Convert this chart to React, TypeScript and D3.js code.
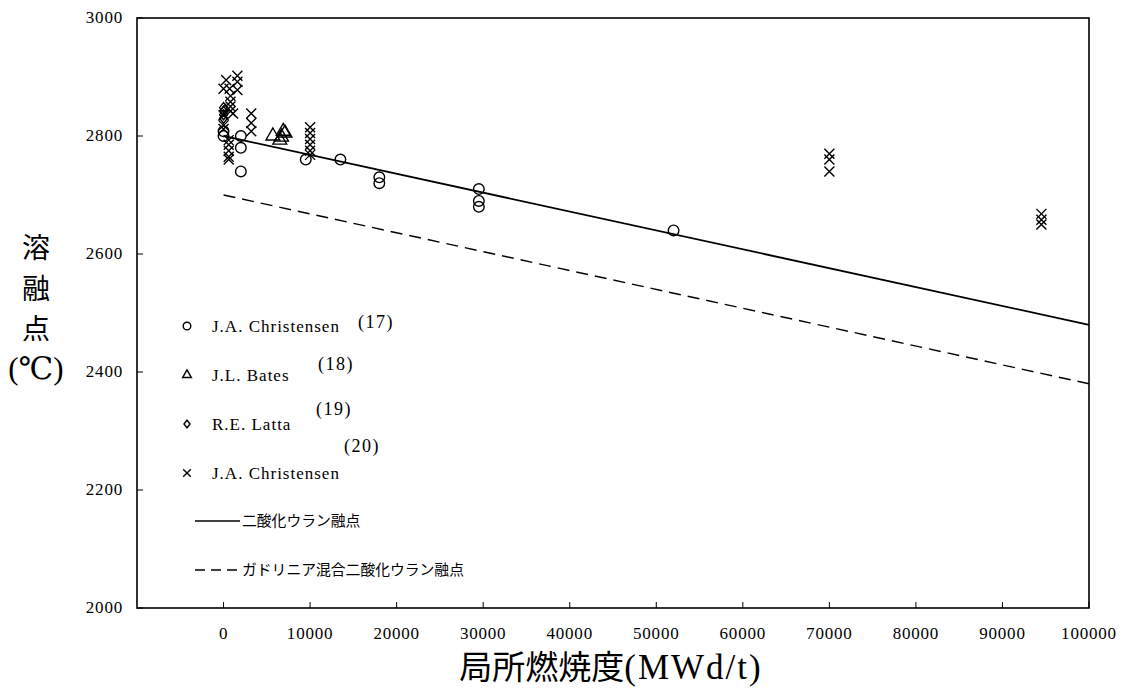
import React from "react";
import * as d3 from "d3";

// ---- data ----
const xTicks = [0, 10000, 20000, 30000, 40000, 50000, 60000, 70000, 80000, 90000, 100000];
const yTicks = [2000, 2200, 2400, 2600, 2800, 3000];

// J.A. Christensen (17) – circles
const christensen17: [number, number][] = [
  [0, 2808], [0, 2800], [2000, 2800], [2000, 2780], [2000, 2740],
  [9500, 2760], [13500, 2760], [18000, 2730], [18000, 2720],
  [29500, 2710], [29500, 2690], [29500, 2680], [52000, 2640],
];
// J.L. Bates (18) – triangles
const bates18: [number, number][] = [
  [5700, 2800], [6500, 2793], [6700, 2798], [6900, 2808], [7100, 2805],
];
// R.E. Latta (19) – diamonds
const latta19: [number, number][] = [
  [0, 2848], [0, 2842], [0, 2836], [0, 2830], [200, 2845],
];
// J.A. Christensen (20) – crosses
const christensen20: [number, number][] = [
  [300, 2895], [0, 2880], [700, 2880], [800, 2868], [800, 2858], [800, 2850],
  [800, 2842], [0, 2835], [1100, 2838], [0, 2818], [0, 2812],
  [600, 2793], [600, 2785], [600, 2775], [600, 2765], [600, 2760],
  [1600, 2902], [1600, 2892], [1600, 2878],
  [3200, 2838], [3200, 2822], [3200, 2808],
  [10000, 2815], [10000, 2805], [10000, 2795], [10000, 2785], [10000, 2775], [10000, 2768],
  [70000, 2770], [70000, 2760], [70000, 2740],
  [94500, 2668], [94500, 2658], [94500, 2650],
];
// fitted lines
const uo2Line: [number, number][] = [[0, 2800], [100000, 2480]];
const gdLine: [number, number][] = [[0, 2700], [100000, 2380]];

const legendPoints = [
  { sym: "circle", label: "J.A. Christensen", ref: "(17)" },
  { sym: "triangle", label: "J.L. Bates", ref: "(18)" },
  { sym: "diamond", label: "R.E. Latta", ref: "(19)" },
  { sym: "cross", label: "J.A. Christensen", ref: "(20)" },
];
const legendLines = [
  { dash: "", label: "二酸化ウラン融点" },
  { dash: "10,6", label: "ガドリニア混合二酸化ウラン融点" },
];
const yTitle = ["溶", "融", "点", "(℃)"];
const xTitleJa = "局所燃焼度";
const xTitleUnit = "(MWd/t)";

const FONT = "'Liberation Serif', 'DejaVu Serif', 'Noto Sans CJK JP', serif";
const JFONT = "'Noto Sans CJK JP', 'Liberation Serif', serif";

function Marker({ sym, x, y, s }: { sym: string; x: number; y: number; s: number }) {
  const st = { fill: "none", stroke: "#000", strokeWidth: 1.4 };
  if (sym === "circle") return <circle cx={x} cy={y} r={s} {...st} />;
  if (sym === "triangle") {
    const p = d3.symbol(d3.symbolTriangle, s * s * 2.3)();
    return <path d={p!} transform={`translate(${x},${y})`} {...st} />;
  }
  if (sym === "diamond") {
    return <path d={`M${x},${y - s}L${x + s * 0.8},${y}L${x},${y + s}L${x - s * 0.8},${y}Z`} {...st} />;
  }
  return (
    <path d={`M${x - s},${y - s}L${x + s},${y + s}M${x - s},${y + s}L${x + s},${y - s}`} {...st} />
  );
}

export default function App() {
  const left = 137, right = 1089, top = 18, bottom = 608;
  const x = d3.scaleLinear().domain([-10000, 100000]).range([left, right]);
  const y = d3.scaleLinear().domain([2000, 3000]).range([bottom, top]);
  const line = d3.line<[number, number]>().x((d) => x(d[0])).y((d) => y(d[1]));

  return (
    <svg width={1121} height={688} style={{ position: "absolute", left: 0, top: 0, background: "#fff" }}>
      <rect x={0} y={0} width={1121} height={688} fill="#fff" />
      {/* frame */}
      <rect x={left} y={top} width={right - left} height={bottom - top} fill="none" stroke="#000" strokeWidth={1.6} />
      {/* ticks */}
      {xTicks.map((t) => (
        <g key={"x" + t}>
          <line x1={x(t)} x2={x(t)} y1={bottom} y2={bottom - 6} stroke="#000" strokeWidth={1} />
          <text x={x(t)} y={639} textAnchor="middle" fontFamily={FONT} fontSize={17} letterSpacing={0.8} fill="#000">{t}</text>
        </g>
      ))}
      {yTicks.map((t) => (
        <g key={"y" + t}>
          <line x1={left} x2={left + 6} y1={y(t)} y2={y(t)} stroke="#000" strokeWidth={1} />
          <text x={123} y={y(t) + 5} textAnchor="end" fontFamily={FONT} fontSize={17} letterSpacing={0.8} fill="#000">{t}</text>
        </g>
      ))}
      {/* lines */}
      <path d={line(uo2Line)!} stroke="#000" strokeWidth={1.8} fill="none" />
      <path d={line(gdLine)!} stroke="#000" strokeWidth={1.4} fill="none" strokeDasharray="12,7" />
      {/* points */}
      {christensen17.map((d, i) => <Marker key={"c" + i} sym="circle" x={x(d[0])} y={y(d[1])} s={5.3} />)}
      {bates18.map((d, i) => <Marker key={"t" + i} sym="triangle" x={x(d[0])} y={y(d[1])} s={6} />)}
      {latta19.map((d, i) => <Marker key={"d" + i} sym="diamond" x={x(d[0])} y={y(d[1])} s={5} />)}
      {christensen20.map((d, i) => <Marker key={"x" + i} sym="cross" x={x(d[0])} y={y(d[1])} s={5} />)}
      {/* legend */}
      {legendPoints.map((l, i) => {
        const ly = 326 + i * 49;
        const refPos = [[358, 328], [318, 370], [316, 415], [344, 452]][i];
        return (
          <g key={"lp" + i}>
            <Marker sym={l.sym} x={187} y={ly} s={3.8} />
            <text x={212} y={ly + 6} fontFamily={FONT} fontSize={17} letterSpacing={1} fill="#000">{l.label}</text>
            <text x={refPos[0]} y={refPos[1]} fontFamily={FONT} fontSize={18} letterSpacing={1.5} fill="#000">{l.ref}</text>
          </g>
        );
      })}
      {legendLines.map((l, i) => {
        const ly = 521 + i * 49;
        return (
          <g key={"ll" + i}>
            <line x1={195} x2={240} y1={ly} y2={ly} stroke="#000" strokeWidth={1.5} strokeDasharray={l.dash || undefined} />
            <text x={242} y={ly + 5} fontFamily={JFONT} fontSize={14.8} fill="#000">{l.label}</text>
          </g>
        );
      })}
      {/* axis titles */}
      {yTitle.map((c, i) => (
        <text key={"yt" + i} x={36} y={[258, 299, 339, 379][i]} textAnchor="middle"
          fontFamily={i === 3 ? FONT : JFONT} fontSize={i === 3 ? 31 : 28} fill="#000">{c}</text>
      ))}
      <text x={611} y={679} textAnchor="middle" fill="#000">
        <tspan fontFamily={JFONT} fontSize={33}>{xTitleJa}</tspan>
        <tspan fontFamily={FONT} fontSize={35} letterSpacing={2}>{xTitleUnit}</tspan>
      </text>
    </svg>
  );
}
